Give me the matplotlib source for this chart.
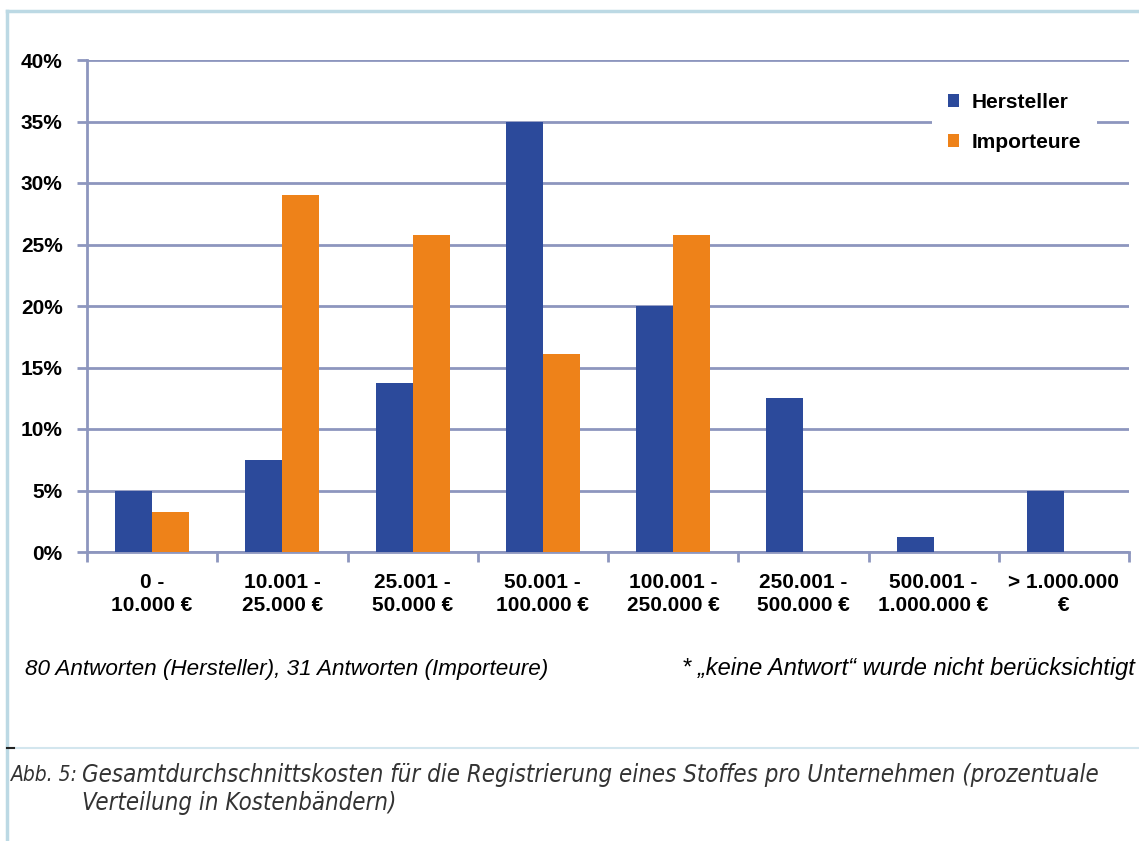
import matplotlib.pyplot as plt
from matplotlib.lines import Line2D
import numpy as np

# cost bands and shares (percent of answers)
bands = ["0 -\n10.000 €", "10.001 -\n25.000 €", "25.001 -\n50.000 €",
         "50.001 -\n100.000 €", "100.001 -\n250.000 €", "250.001 -\n500.000 €",
         "500.001 -\n1.000.000 €", "> 1.000.000\n€"]
hersteller = [5.0, 7.5, 13.75, 35.0, 20.0, 12.5, 1.25, 5.0]
importeure = [3.23, 29.03, 25.81, 16.13, 25.81, 0.0, 0.0, 0.0]
y_ticks = [0, 5, 10, 15, 20, 25, 30, 35, 40]

blue = "#2C4A9B"
orange = "#EE8219"
grid_col = "#8D96BE"

plt.rcParams['font.family'] = ['Liberation Sans', 'DejaVu Sans']

W, H = 1139, 841
fig = plt.figure(figsize=(W / 100, H / 100), dpi=100)
ax = fig.add_axes([87 / W, (H - 552) / H, (1129 - 87) / W, (552 - 60) / H])

x = np.arange(len(bands))
bw = 0.284
ax.bar(x - bw / 2, hersteller, bw, color=blue, label="Hersteller", zorder=3)
ax.bar(x + bw / 2, importeure, bw, color=orange, label="Importeure", zorder=3)

ax.set_xlim(-0.5, len(bands) - 0.5)
ax.set_ylim(0, 40)
ax.set_yticks(y_ticks)
ax.set_yticklabels([f"{v}%" for v in y_ticks], fontsize=15, fontweight="bold")
ax.set_xticks(x)
ax.set_xticklabels(bands, fontsize=15, fontweight="bold", linespacing=1.28)
ax.tick_params(axis="x", length=0, pad=15)
ax.set_xticks(np.arange(len(bands) + 1) - 0.5, minor=True)
ax.tick_params(axis="x", which="minor", length=7, width=2, color=grid_col)
ax.tick_params(axis="y", length=7, width=2, color=grid_col, pad=10.5)

ax.yaxis.grid(True, color=grid_col, linewidth=2, zorder=0)
ax.set_axisbelow(True)
for s in ["top", "right"]:
    ax.spines[s].set_visible(False)
for s in ["left", "bottom"]:
    ax.spines[s].set_color(grid_col)
    ax.spines[s].set_linewidth(2)

leg = ax.legend(loc="upper right", bbox_to_anchor=(0.969, 0.965),
                frameon=True, fancybox=False, edgecolor="white", facecolor="white",
                framealpha=1, prop={"weight": "bold", "size": 15},
                handlelength=0.55, handleheight=0.55, handletextpad=0.6,
                labelspacing=1.0, borderpad=0.75, borderaxespad=0)
leg.get_frame().set_linewidth(0)

# notes below the chart
fig.text(25 / W, 1 - 669 / H, "80 Antworten (Hersteller), 31 Antworten (Importeure)",
         fontsize=16.2, style="italic", ha="left", va="center")
fig.text(1135 / W, 1 - 669 / H, "* \u201ekeine Antwort\u201c wurde nicht berücksichtigt",
         fontsize=17, style="italic", ha="right", va="center")

# page frame lines
fig.add_artist(Line2D([7 / W, 1], [1 - 11 / H, 1 - 11 / H], color="#BCD9E4", lw=2.5))
fig.add_artist(Line2D([7 / W, 7 / W], [1 - 11 / H, 0], color="#BCD9E4", lw=2.5))
fig.add_artist(Line2D([7 / W, 1], [1 - 748 / H, 1 - 748 / H], color="#D3E6EE", lw=1.5))
fig.add_artist(Line2D([7 / W, 14 / W], [1 - 748 / H, 1 - 748 / H], color="#222222", lw=1.5))

# caption (condensed italic)
cap = dict(style="italic", family="DejaVu Sans", fontstretch="condensed",
           color="#333333", ha="left", va="center")
fig.text(11 / W, 1 - 775 / H, "Abb. 5:", fontsize=15, **cap)
fig.text(82 / W, 1 - 775 / H,
         "Gesamtdurchschnittskosten für die Registrierung eines Stoffes pro Unternehmen (prozentuale",
         fontsize=17.2, **cap)
fig.text(82 / W, 1 - 803 / H, "Verteilung in Kostenbändern)", fontsize=17.2, **cap)

fig.savefig("out.png", dpi=100)
